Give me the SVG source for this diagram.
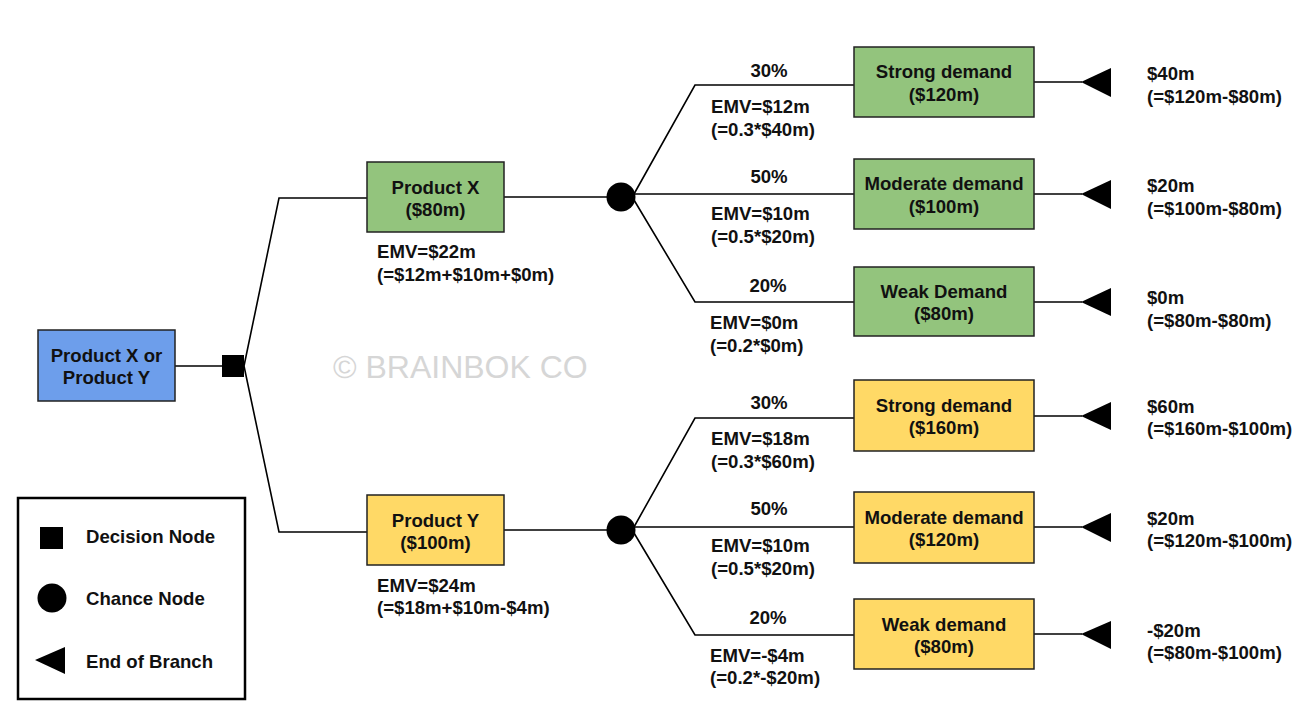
<svg xmlns="http://www.w3.org/2000/svg" width="1308" height="719" viewBox="0 0 1308 719">
<style>
  text { font-family: "Liberation Sans", Arial, sans-serif; font-weight: bold; font-size: 18.6px; fill: #111; }
  .c { text-anchor: middle; }
  .box { stroke: #222; stroke-width: 1.5; }
  .blue { fill: #6d9eeb; }
  .green { fill: #93c47d; }
  .yellow { fill: #ffd966; }
  .ln { stroke: #000; stroke-width: 1.6; fill: none; }
  .wm { font-weight: normal; font-size: 32px; fill: #d6d6d6; }
</style>
<rect width="1308" height="719" fill="#fff"/>

<g id="connectors">
  <path class="ln" d="M175 366 H222"/>
  <path class="ln" d="M244 366 L279 198 H367"/>
  <path class="ln" d="M244 366 L279 532 H367"/>
  <path class="ln" d="M504 197 H607"/>
  <path class="ln" d="M504 530 H607"/>
  <path class="ln" d="M634 194 L695 85 H854"/>
  <path class="ln" d="M621 194 H854"/>
  <path class="ln" d="M634 200 L695 302 H854"/>
  <path class="ln" d="M634 527 L695 418 H854"/>
  <path class="ln" d="M621 527 H854"/>
  <path class="ln" d="M634 533 L695 635 H854"/>
  <path class="ln" d="M1034 82 H1082"/>
  <path class="ln" d="M1034 194 H1082"/>
  <path class="ln" d="M1034 302 H1082"/>
  <path class="ln" d="M1034 416 H1082"/>
  <path class="ln" d="M1034 527 H1082"/>
  <path class="ln" d="M1034 634 H1082"/>
</g>

<g id="root">
  <rect class="box blue" x="38" y="330" width="137" height="71"/>
  <text class="c" x="106.5" y="362">Product X or</text>
  <text class="c" x="106.5" y="384">Product Y</text>
</g>

<g id="decision">
  <rect x="222" y="355" width="22" height="22" fill="#000"/>
</g>

<g id="productX">
  <rect class="box green" x="367" y="162" width="137" height="70"/>
  <text class="c" x="435.5" y="194">Product X</text>
  <text class="c" x="435.5" y="216">($80m)</text>
  <text x="377" y="258">EMV=$22m</text>
  <text x="377" y="281">(=$12m+$10m+$0m)</text>
</g>

<g id="productY">
  <rect class="box yellow" x="367" y="495" width="137" height="70"/>
  <text class="c" x="435.5" y="527">Product Y</text>
  <text class="c" x="435.5" y="549">($100m)</text>
  <text x="377" y="592">EMV=$24m</text>
  <text x="377" y="614">(=$18m+$10m-$4m)</text>
</g>

<g id="chanceX">
  <circle cx="621" cy="197" r="14.5" fill="#000"/>
</g>
<g id="chanceY">
  <circle cx="621" cy="530" r="14.5" fill="#000"/>
</g>

<g id="x-strong">
  <text class="c" x="769" y="77">30%</text>
  <text x="711" y="113">EMV=$12m</text>
  <text x="711" y="136">(=0.3*$40m)</text>
  <rect class="box green" x="854" y="47" width="180" height="70"/>
  <text class="c" x="944" y="78">Strong demand</text>
  <text class="c" x="944" y="101">($120m)</text>
  <polygon points="1081,82 1111,68 1111,97" fill="#000"/>
  <text x="1147" y="80">$40m</text>
  <text x="1147" y="103">(=$120m-$80m)</text>
</g>

<g id="x-moderate">
  <text class="c" x="769" y="183">50%</text>
  <text x="711" y="220">EMV=$10m</text>
  <text x="711" y="243">(=0.5*$20m)</text>
  <rect class="box green" x="854" y="159" width="180" height="70"/>
  <text class="c" x="944" y="190">Moderate demand</text>
  <text class="c" x="944" y="213">($100m)</text>
  <polygon points="1081,194 1111,180 1111,209" fill="#000"/>
  <text x="1147" y="192">$20m</text>
  <text x="1147" y="215">(=$100m-$80m)</text>
</g>

<g id="x-weak">
  <text class="c" x="768" y="292">20%</text>
  <text x="710" y="329">EMV=$0m</text>
  <text x="710" y="352">(=0.2*$0m)</text>
  <rect class="box green" x="854" y="267" width="180" height="69"/>
  <text class="c" x="944" y="298">Weak Demand</text>
  <text class="c" x="944" y="320">($80m)</text>
  <polygon points="1081,302 1111,288 1111,316" fill="#000"/>
  <text x="1147" y="304">$0m</text>
  <text x="1147" y="327">(=$80m-$80m)</text>
</g>

<g id="y-strong">
  <text class="c" x="769" y="409">30%</text>
  <text x="711" y="445">EMV=$18m</text>
  <text x="711" y="468">(=0.3*$60m)</text>
  <rect class="box yellow" x="854" y="380" width="180" height="71"/>
  <text class="c" x="944" y="412">Strong demand</text>
  <text class="c" x="944" y="434">($160m)</text>
  <polygon points="1081,416 1111,402 1111,430" fill="#000"/>
  <text x="1147" y="413">$60m</text>
  <text x="1147" y="435">(=$160m-$100m)</text>
</g>

<g id="y-moderate">
  <text class="c" x="769" y="515">50%</text>
  <text x="711" y="552">EMV=$10m</text>
  <text x="711" y="575">(=0.5*$20m)</text>
  <rect class="box yellow" x="854" y="492" width="180" height="71"/>
  <text class="c" x="944" y="524">Moderate demand</text>
  <text class="c" x="944" y="546">($120m)</text>
  <polygon points="1081,527 1111,513 1111,542" fill="#000"/>
  <text x="1147" y="525">$20m</text>
  <text x="1147" y="547">(=$120m-$100m)</text>
</g>

<g id="y-weak">
  <text class="c" x="768" y="624">20%</text>
  <text x="710" y="662">EMV=-$4m</text>
  <text x="710" y="684">(=0.2*-$20m)</text>
  <rect class="box yellow" x="854" y="599" width="180" height="70"/>
  <text class="c" x="944" y="631">Weak demand</text>
  <text class="c" x="944" y="653">($80m)</text>
  <polygon points="1081,634 1111,621 1111,649" fill="#000"/>
  <text x="1147" y="637">-$20m</text>
  <text x="1147" y="659">(=$80m-$100m)</text>
</g>

<text class="wm" x="333" y="378">© BRAINBOK CO</text>

<g id="legend">
  <rect x="18" y="498" width="227" height="201" fill="#fff" stroke="#000" stroke-width="2.5"/>
  <rect x="40" y="527" width="23" height="22" fill="#000"/>
  <text x="86" y="543">Decision Node</text>
  <circle cx="52" cy="598" r="14.5" fill="#000"/>
  <text x="86" y="605">Chance Node</text>
  <polygon points="35,660 65,647 65,674" fill="#000"/>
  <text x="86" y="668">End of Branch</text>
</g>
</svg>
